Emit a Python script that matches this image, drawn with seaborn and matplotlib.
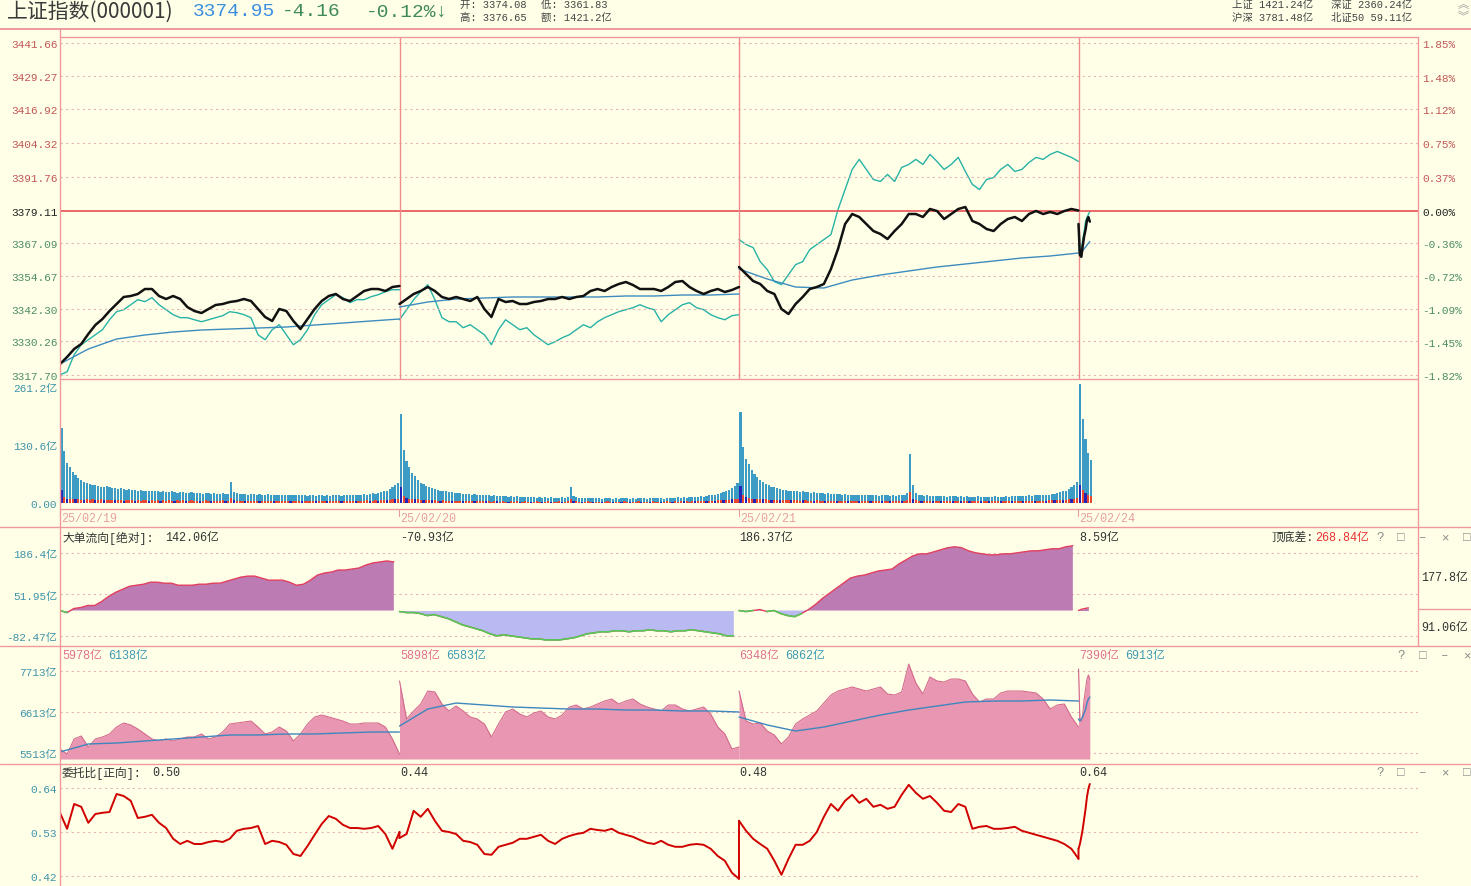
import numpy as np
import matplotlib
matplotlib.use("Agg")
import matplotlib.pyplot as plt
from matplotlib.lines import Line2D
import seaborn as sns

# ---------------- data ----------------
DAY_LABELS = ["25/02/19", "25/02/20", "25/02/21", "25/02/24"]
PREV_CLOSE = 3379.11
PRICE_TICKS = [3441.66, 3429.27, 3416.92, 3404.32, 3391.76, 3379.11,
               3367.09, 3354.67, 3342.30, 3330.26, 3317.70]
PCT_TICKS = [1.85, 1.48, 1.12, 0.75, 0.37, 0.00, -0.36, -0.72, -1.09, -1.45, -1.82]

# index price, 5-minute samples (last day 1-minute)
price_d1 = [3321.80, 3324.41, 3327.40, 3329.27, 3333.00, 3336.36, 3338.60, 3341.59, 3344.20, 3346.82,
            3347.19, 3347.94, 3349.80, 3349.80, 3347.19, 3346.07, 3347.19, 3346.07, 3343.08, 3341.59,
            3340.84, 3342.34, 3343.83, 3344.20, 3344.95, 3345.32, 3346.07, 3345.32, 3342.34, 3339.35,
            3337.86, 3342.34, 3341.59, 3337.86, 3334.87, 3338.60, 3342.34, 3345.32, 3347.19, 3347.94,
            3346.07, 3345.32, 3347.19, 3349.06, 3349.80, 3349.80, 3349.06, 3350.55, 3350.92]
price_d2 = [3344.20, 3346.07, 3347.94, 3349.06, 3350.55, 3349.06, 3346.82, 3346.07, 3346.82, 3346.07,
            3345.32, 3346.82, 3342.34, 3339.35, 3346.07, 3344.95, 3345.32, 3344.20, 3344.20, 3344.95,
            3345.32, 3346.07, 3346.07, 3346.82, 3346.07, 3346.82, 3347.19, 3349.06, 3349.80, 3349.06,
            3350.55, 3351.67, 3352.42, 3351.30, 3349.80, 3349.80, 3349.80, 3349.06, 3350.55, 3352.42,
            3352.79, 3350.55, 3349.06, 3347.94, 3349.06, 3349.80, 3348.68, 3349.43, 3350.55]
price_d3 = [3358.02, 3355.40, 3352.79, 3351.67, 3349.06, 3347.94, 3342.34, 3340.47, 3344.20, 3346.82,
            3349.80, 3350.55, 3351.67, 3357.27, 3364.74, 3374.07, 3377.81, 3376.69, 3374.07, 3371.46,
            3370.34, 3368.47, 3371.46, 3374.07, 3377.81, 3377.81, 3376.69, 3379.68, 3378.93, 3375.94,
            3377.81, 3379.68, 3380.42, 3375.20, 3374.07, 3372.21, 3371.46, 3374.07, 3375.94, 3376.69,
            3375.20, 3377.81, 3378.93, 3377.81, 3378.56, 3377.81, 3378.93, 3379.68, 3379.11]
price_d4 = [3374.08, 3362.50, 3361.83, 3366.00, 3369.50, 3372.00, 3375.50, 3376.65, 3374.95]

# second index, percent change
pct_d1 = [-1.815, -1.782, -1.594, -1.483, -1.428, -1.373, -1.317, -1.207, -1.118, -1.096,
          -1.041, -0.985, -1.007, -0.963, -1.041, -1.096, -1.151, -1.184, -1.184, -1.207,
          -1.229, -1.207, -1.184, -1.162, -1.118, -1.129, -1.151, -1.184, -1.373, -1.428,
          -1.317, -1.262, -1.373, -1.483, -1.428, -1.317, -1.151, -1.041, -0.985, -0.930,
          -0.963, -1.018, -0.985, -0.985, -0.952, -0.930, -0.897, -0.875, -0.875]
pct_d2 = [-1.207, -1.096, -0.985, -0.897, -0.819, -0.985, -1.184, -1.229, -1.229, -1.295,
          -1.262, -1.317, -1.373, -1.483, -1.317, -1.207, -1.262, -1.317, -1.295, -1.373,
          -1.428, -1.483, -1.450, -1.406, -1.373, -1.317, -1.262, -1.295, -1.229, -1.184,
          -1.151, -1.118, -1.096, -1.074, -1.041, -1.074, -1.096, -1.229, -1.151, -1.096,
          -1.041, -1.018, -1.074, -1.096, -1.151, -1.184, -1.207, -1.162, -1.151]
pct_d3 = [-0.321, -0.376, -0.410, -0.565, -0.653, -0.786, -0.819, -0.708, -0.598, -0.565,
          -0.432, -0.376, -0.321, -0.266, 0.011, 0.232, 0.454, 0.565, 0.454, 0.343,
          0.321, 0.399, 0.321, 0.476, 0.509, 0.565, 0.509, 0.620, 0.542, 0.454,
          0.509, 0.587, 0.432, 0.288, 0.232, 0.343, 0.365, 0.454, 0.509, 0.432,
          0.454, 0.531, 0.587, 0.565, 0.620, 0.653, 0.620, 0.587, 0.542]
pct_d4 = [-0.376, -0.520, -0.432, -0.321, -0.232, -0.122, -0.077, -0.044, -0.011]

# average price line, 20-minute samples (last day 1-minute)
avg_d1 = [3321.80, 3327.40, 3331.13, 3332.63, 3333.75, 3334.49, 3334.87, 3335.24, 3335.61,
          3336.36, 3337.11, 3337.86, 3338.60]
avg_d2 = [3343.08, 3344.95, 3346.07, 3346.44, 3346.82, 3346.82, 3346.82, 3346.82, 3347.19,
          3347.19, 3347.56, 3347.56, 3347.94]
avg_d3 = [3357.27, 3353.54, 3350.55, 3350.18, 3353.16, 3355.03, 3356.53, 3358.02, 3359.14,
          3360.26, 3361.38, 3362.13, 3363.25]
avg_d4 = [3364.5, 3364.0, 3363.8, 3364.2, 3364.8, 3365.5, 3366.2, 3366.9, 3367.5]

# traded amount per 2 minutes (亿)
vol_d1 = [169, 117, 90, 80, 70, 62, 56, 52, 48, 45, 43, 41, 40, 38, 37, 36, 38, 35, 34, 33,
          32, 34, 31, 30, 31, 29, 30, 28, 29, 27, 28, 27, 26, 28, 26, 25, 26, 24, 25, 26,
          24, 23, 25, 24, 23, 22, 24, 23, 22, 23, 21, 22, 23, 21, 22, 20, 21, 22, 20, 21,
          47, 25, 22, 21, 20, 21, 19, 20, 21, 19, 20, 19, 18, 20, 19, 18, 19, 18, 17, 19,
          18, 17, 18, 19, 17, 18, 17, 16, 18, 17, 16, 17, 18, 16, 17, 16, 17, 18, 17, 16,
          17, 18, 17, 18, 19, 18, 19, 20, 19, 21, 22, 21, 23, 24, 26, 28, 31, 35, 40, 46]
vol_d2 = [200, 120, 95, 80, 68, 60, 52, 46, 42, 38, 35, 33, 31, 30, 28, 27, 26, 25, 24, 23,
          22, 23, 21, 20, 21, 19, 20, 18, 19, 18, 17, 18, 16, 17, 16, 15, 16, 15, 14, 15,
          14, 15, 14, 13, 14, 13, 14, 13, 12, 13, 12, 13, 12, 13, 12, 11, 12, 13, 12, 14,
          36, 16, 13, 12, 11, 12, 11, 12, 11, 12, 11, 10, 11, 12, 11, 10, 11, 10, 11, 12,
          11, 10, 11, 10, 11, 12, 11, 10, 11, 12, 11, 12, 11, 10, 11, 12, 11, 12, 13, 12,
          13, 12, 13, 14, 13, 14, 15, 14, 16, 17, 18, 19, 20, 22, 24, 26, 29, 33, 38, 45]
vol_d3 = [205, 125, 100, 88, 75, 66, 58, 52, 47, 43, 40, 37, 35, 33, 32, 30, 29, 28, 27, 26,
          27, 25, 26, 24, 25, 23, 24, 22, 23, 22, 21, 22, 21, 20, 21, 20, 19, 20, 19, 18,
          19, 18, 19, 18, 17, 18, 17, 18, 17, 16, 17, 18, 17, 16, 17, 16, 17, 18, 19, 22,
          110, 40, 22, 18, 17, 16, 17, 16, 15, 16, 15, 16, 15, 14, 15, 16, 15, 14, 15, 14,
          15, 14, 13, 14, 15, 14, 13, 14, 13, 14, 15, 14, 13, 14, 15, 14, 15, 16, 15, 16,
          15, 16, 17, 16, 17, 18, 17, 18, 19, 18, 20, 21, 22, 24, 26, 28, 31, 35, 40, 48]
vol_d4 = [268, 190, 145, 112, 96]

# big-order part of the amount (+ buy / - sell)
big_d1 = [-30, 14, -10, 9, 8, -8, 9, 7, -7, 8, 7, 8, -6, 7, 8, -6, 7, 6, 7, -6,
          7, 6, -5, 6, 7, 6, -5, 6, 5, 6, 7, -5, 6, 5, 6, -5, 6, 5, 6, 5,
          -5, 6, 5, 6, -5, 5, 6, 5, 4, -5, 5, 6, 5, -4, 5, 4, 5, 6, -4, 5,
          12, -6, 5, 4, 5, -4, 5, 4, 5, 4, -4, 5, 4, 5, 4, -4, 5, 4, 5, 4,
          5, -4, 4, 5, 4, -4, 5, 4, 4, 5, -4, 4, 5, 4, -4, 4, 5, 4, 5, -4,
          4, 5, 4, 5, -4, 5, 4, 5, 6, -5, 5, 6, -5, 6, 7, -6, 7, 8, -9, 10]
big_d2 = [-35, 16, -12, 10, 9, -8, 8, 7, -7, 7, 6, -6, 6, 5, -5, 6, 5, 5, -5, 5,
          4, 5, -4, 5, 4, 4, -4, 4, 5, 4, -4, 4, 3, 4, -4, 3, 4, 3, -3, 4,
          3, 4, -3, 3, 4, 3, -3, 3, 4, 3, -3, 3, 4, -3, 3, 3, 4, -3, 3, 4,
          10, -5, 4, 3, -3, 3, 4, 3, -3, 3, 3, -3, 3, 4, 3, -3, 3, 3, -3, 4,
          3, -3, 3, 3, 4, -3, 3, 3, -3, 4, 3, 3, -3, 3, 4, 3, -3, 4, 3, 4,
          -4, 4, 3, 4, -4, 4, 5, 4, -5, 5, 5, -5, 6, 6, -6, 7, 7, -8, 9, 10]
big_d3 = [-38, 18, -14, 11, 10, -9, 9, 8, -8, 8, 7, -7, 7, 6, -6, 7, 6, 6, -6, 6,
          6, 5, -6, 6, 5, 5, -5, 6, 5, 5, -5, 5, 4, 5, -5, 4, 5, 4, -4, 5,
          4, 5, -4, 4, 5, 4, -4, 4, 5, 4, -4, 4, 5, -4, 4, 4, 5, -4, 5, 6,
          25, -10, 6, 5, -4, 4, 5, 4, -4, 4, 4, -4, 4, 5, 4, -4, 4, 4, -4, 5,
          4, -4, 4, 4, 5, -4, 4, 4, -4, 5, 4, 4, -4, 4, 5, 4, -4, 5, 4, 5,
          -4, 5, 4, 5, -5, 5, 5, 5, -5, 6, 6, -6, 6, 7, -7, 7, 8, -8, 9, 11]
big_d4 = [-40, 30, -22, 18, 15]

# 大单流向 cumulative (亿)
flow_d1 = [0, -6.6, 6.6, 9.8, 16.4, 16.4, 29.5, 45.9, 59.0, 68.9, 78.7, 82.0, 85.3, 91.8, 91.8,
           88.6, 88.6, 82.0, 82.0, 82.0, 85.3, 85.3, 88.6, 88.6, 95.1, 101.7, 108.2, 111.5, 111.5,
           105.0, 98.4, 98.4, 98.4, 91.8, 82.0, 85.3, 98.4, 114.8, 121.4, 124.6, 131.2, 131.2,
           134.5, 137.8, 147.6, 154.2, 157.4, 160.7, 157.4]
flow_d2 = [-3.3, -6.6, -6.6, -9.8, -16.4, -13.1, -19.7, -26.2, -36.1, -45.9, -52.5, -59.0, -65.6,
           -75.4, -82.0, -78.7, -82.0, -85.3, -88.6, -91.8, -91.8, -95.1, -95.1, -95.1, -91.8,
           -88.6, -82.0, -75.4, -72.2, -68.9, -68.9, -65.6, -65.6, -68.9, -65.6, -65.6, -62.3,
           -65.6, -65.6, -68.9, -65.6, -65.6, -62.3, -65.6, -68.9, -72.2, -75.4, -82.0, -82.0]
flow_d3 = [0, -3.3, 0, 3.3, -3.3, 0, -9.8, -16.4, -19.7, -9.8, 3.3, 19.7, 39.4, 55.8, 72.2,
           88.6, 105.0, 111.5, 114.8, 121.4, 128.0, 131.2, 134.5, 150.9, 164.0, 177.1, 183.7,
           183.7, 190.2, 196.8, 203.4, 206.6, 203.4, 193.5, 187.0, 183.7, 180.4, 180.4, 183.7,
           183.7, 187.0, 190.2, 193.5, 193.5, 196.8, 200.1, 200.1, 206.6, 209.9]
flow_d4 = [0, 2, 4, 5, 6, 7, 8, 8.6]
FLOW_HEAD = ["142.06亿", "-70.93亿", "186.37亿", "8.59亿"]

# cumulative amount (亿) and its average line
amt_d1 = [5620, 5486, 5889, 5969, 5674, 5889, 5942, 6023, 6210, 6318, 6264, 6157, 6023, 5889, 5835,
          5889, 5835, 5889, 5942, 5942, 6023, 5889, 5942, 6076, 6291, 6318, 6345, 6371, 6210, 6023,
          6076, 6210, 6103, 5835, 6023, 6291, 6479, 6532, 6479, 6425, 6371, 6291, 6291, 6318, 6318,
          6318, 6210, 5889, 5486]
amt_d2 = [7445, 6425, 6640, 6828, 7176, 7150, 6828, 6640, 6774, 6640, 6479, 6425, 6291, 5942, 6291,
          6613, 6693, 6559, 6479, 6586, 6640, 6479, 6425, 6532, 6747, 6801, 6693, 6747, 6828, 6908,
          6962, 6828, 6908, 6962, 6828, 6747, 6693, 6640, 6801, 6801, 6693, 6640, 6693, 6747, 6559,
          6210, 6023, 5620, 5674]
amt_d3 = [7176, 6371, 6291, 6318, 6103, 5996, 5755, 5942, 6291, 6425, 6532, 6640, 6854, 7069, 7176,
          7230, 7284, 7230, 7176, 7230, 7284, 7096, 7069, 7150, 7900, 7391, 7096, 7552, 7445, 7418,
          7498, 7498, 7445, 7096, 6881, 6962, 6962, 7123, 7176, 7176, 7176, 7150, 7123, 6962, 6693,
          6801, 6828, 6479, 6210]
amt_d4 = [7767, 6425, 6371, 6559, 6962, 7230, 7498, 7606, 7498]
amtavg_d1 = [5540, 5755, 5781, 5835, 5889, 5942, 5996, 5996, 6023, 6023, 6050, 6076, 6076]
amtavg_d2 = [6237, 6693, 6854, 6801, 6747, 6720, 6693, 6693, 6666, 6666, 6640, 6640, 6613]
amtavg_d3 = [6479, 6264, 6103, 6210, 6371, 6532, 6666, 6774, 6881, 6908, 6908, 6935, 6908]
amtavg_d4 = [6425, 6371, 6425, 6479, 6586, 6693, 6854, 6962, 7015]
AMT_HEAD = [("5978亿", "6138亿"), ("5898亿", "6583亿"), ("6348亿", "6862亿"), ("7390亿", "6913亿")]

# 委托比
ratio_d1 = [0.578, 0.538, 0.600, 0.593, 0.553, 0.575, 0.578, 0.580, 0.625, 0.620, 0.608, 0.565,
            0.568, 0.573, 0.553, 0.540, 0.513, 0.500, 0.508, 0.500, 0.500, 0.505, 0.508, 0.505,
            0.513, 0.533, 0.538, 0.540, 0.545, 0.500, 0.508, 0.505, 0.498, 0.475, 0.470, 0.495,
            0.523, 0.550, 0.570, 0.563, 0.548, 0.540, 0.540, 0.538, 0.540, 0.545, 0.525, 0.488, 0.530]
ratio_d2 = [0.515, 0.525, 0.583, 0.568, 0.588, 0.558, 0.533, 0.530, 0.525, 0.508, 0.505, 0.498,
            0.475, 0.473, 0.493, 0.498, 0.503, 0.513, 0.513, 0.518, 0.523, 0.508, 0.500, 0.513,
            0.520, 0.525, 0.528, 0.538, 0.535, 0.533, 0.538, 0.528, 0.523, 0.518, 0.510, 0.503,
            0.500, 0.508, 0.498, 0.493, 0.493, 0.498, 0.500, 0.498, 0.488, 0.470, 0.458, 0.428, 0.413]
ratio_d3 = [0.558, 0.533, 0.513, 0.500, 0.488, 0.458, 0.423, 0.463, 0.498, 0.498, 0.508, 0.530,
            0.568, 0.600, 0.583, 0.608, 0.623, 0.603, 0.613, 0.593, 0.598, 0.588, 0.593, 0.623,
            0.648, 0.628, 0.613, 0.620, 0.603, 0.583, 0.580, 0.600, 0.593, 0.538, 0.543, 0.545,
            0.538, 0.538, 0.540, 0.543, 0.533, 0.528, 0.523, 0.518, 0.513, 0.508, 0.500, 0.488, 0.463]
ratio_d4 = [0.488, 0.500, 0.518, 0.538, 0.563, 0.588, 0.618, 0.638, 0.650]
RATIO_HEAD = ["0.50", "0.44", "0.48", "0.64"]

# ---------------- style ----------------
W, H = 1471, 887
BG = '#FFFFE8'
PINK = '#EE9A9A'
GRIDC = '#E6B4B4'
UPC, DNC, TEALT = '#C25858', '#4E8E66', '#3F93AA'
DAY = 240
CJK = ['Noto Sans CJK SC', 'DejaVu Sans']

sns.set_theme(style='white')
plt.rcParams['font.family'] = ['Liberation Mono', 'Noto Sans CJK SC', 'DejaVu Sans']
plt.rcParams['axes.unicode_minus'] = False

fig = plt.figure(figsize=(W / 100, H / 100), dpi=100, facecolor=BG)


def add_ax(top, bottom, left=60, right=1418):
    ax = fig.add_axes([left / W, 1 - bottom / H, (right - left) / W, (bottom - top) / H])
    ax.set_facecolor(BG)
    for s in ax.spines.values():
        s.set_visible(False)
    ax.tick_params(axis='both', length=0, pad=2, labelsize=8)
    return ax


def finish(ax, xlim=(0, 4 * DAY)):
    ax.set_xlim(*xlim)
    ax.set_xticks([])
    ax.set_xlabel('')
    ax.set_ylabel('')
    ax.grid(False)


def hline_px(y, x0=60, x1=1418, **kw):
    kw.setdefault('color', PINK)
    kw.setdefault('lw', 1.0)
    fig.add_artist(Line2D([x0 / W, x1 / W], [1 - y / H, 1 - y / H], transform=fig.transFigure, zorder=20, **kw))


def vline_px(x, y0, y1, **kw):
    kw.setdefault('color', PINK)
    kw.setdefault('lw', 1.0)
    fig.add_artist(Line2D([x / W, x / W], [1 - y0 / H, 1 - y1 / H], transform=fig.transFigure, zorder=20, **kw))


def ftext(x, y, s, **kw):
    kw.setdefault('fontsize', 8.5)
    kw.setdefault('color', '#333333')
    fig.text(x / W, 1 - y / H, s, va='center', ha=kw.pop('ha', 'left'), **kw)


def sline(ax, x, y, **kw):
    sns.lineplot(x=np.asarray(x, float), y=np.asarray(y, float), ax=ax, estimator=None,
                 sort=False, legend=False, **kw)


def xs(day, n, step):
    return day * DAY + np.arange(n) * step


DASH = (0, (2, 3))

# ---------------- main price panel ----------------
ax = add_ax(38, 380)
ylo, yhi = 3316.2, 3443.9
for p in PRICE_TICKS:
    if p == PREV_CLOSE:
        ax.axhline(p, color='#E85050', lw=1.2, zorder=1)
    else:
        ax.axhline(p, color=GRIDC, lw=0.8, ls=DASH, zorder=1)
for d in (1, 2, 3):
    ax.axvline(d * DAY, color='#EE8C8C', lw=1.0, zorder=1)
ax2 = ax.twinx()
for s in ax2.spines.values():
    s.set_visible(False)
for d, (pr, pc, av) in enumerate([(price_d1, pct_d1, avg_d1), (price_d2, pct_d2, avg_d2),
                                  (price_d3, pct_d3, avg_d3), (price_d4, pct_d4, avg_d4)]):
    st = 5 if d < 3 else 1
    ast = 20 if d < 3 else 1
    sline(ax2, xs(d, len(pc), st), pc, color='#27B2A6', lw=1.0)
    sline(ax, xs(d, len(av), ast), av, color='#3D8CBF', lw=1.0)
    sline(ax, xs(d, len(pr), st), pr, color='#111111', lw=1.8)
ax.set_zorder(ax2.get_zorder() + 1)
ax.patch.set_visible(False)
ax2.set_facecolor(BG)
finish(ax)
finish(ax2)
ax.set_ylim(ylo, yhi)
ax2.set_ylim((ylo / PREV_CLOSE - 1) * 100, (yhi / PREV_CLOSE - 1) * 100)
ax.set_yticks(PRICE_TICKS)
ax.set_yticklabels([f"{p:.2f}" for p in PRICE_TICKS])
for lbl, p in zip(ax.get_yticklabels(), PRICE_TICKS):
    lbl.set_color('#222222' if p == PREV_CLOSE else (UPC if p > PREV_CLOSE else DNC))
ax2.set_yticks(PCT_TICKS)
ax2.set_yticklabels([f"{v:.2f}%" for v in PCT_TICKS])
ax2.tick_params(axis='y', length=0, pad=3, labelsize=8)
for lbl, v in zip(ax2.get_yticklabels(), PCT_TICKS):
    lbl.set_color('#222222' if v == 0 else (UPC if v > 0 else DNC))

# ---------------- volume panel ----------------
axv = add_ax(380, 510)
for d, (v, b) in enumerate([(vol_d1, big_d1), (vol_d2, big_d2), (vol_d3, big_d3), (vol_d4, big_d4)]):
    xv = xs(d, len(v), 2) + 1
    axv.bar(xv, v, width=1.55, color='#3C9CC6', linewidth=0)
    b = np.asarray(b, float)
    xb = xs(d, len(b), 2) + 1
    axv.bar(xb, np.abs(b), width=1.55, color=np.where(b > 0, '#E8462E', '#2424B8'), linewidth=0)
finish(axv)
axv.set_ylim(-13.5, 279)
axv.set_yticks([261.2, 130.6, 0])
axv.set_yticklabels(["261.2亿", "130.6亿", "0.00"], color=TEALT)

# date row
for d, lab in enumerate(DAY_LABELS):
    ftext(61 + d * 339.4, 519, lab, color='#E8A0A0', fontsize=8.5)
    vline_px(60 + d * 339.4, 510, 517, lw=0.8)

# ---------------- big order flow panel ----------------
axf = add_ax(528, 647)
for g in (186.4, 51.95, -82.47):
    axf.axhline(g, color=GRIDC, lw=0.8, ls=DASH, zorder=0)
for d, f in enumerate([flow_d1, flow_d2, flow_d3, flow_d4]):
    f = np.asarray(f, float)
    x = d * DAY + (np.linspace(0, 236, len(f)) if d < 3 else np.arange(len(f)))
    axf.fill_between(x, f, 0, where=f >= 0, interpolate=True, color='#BC7BB3', lw=0)
    axf.fill_between(x, f, 0, where=f <= 0, interpolate=True, color='#BABAF2', lw=0)
    sline(axf, x, f, color='#E2405E', lw=1.0)
    neg = np.where(f <= 0, f, np.nan)
    axf.plot(x, neg, color='#55C855', lw=1.2)
finish(axf)
axf.set_ylim(-114.9, 270.6)
axf.set_yticks([186.4, 51.95, -82.47])
axf.set_yticklabels(["186.4亿", "51.95亿", "-82.47亿"], color=TEALT)
ftext(62, 538, "大单流向[绝对]:", fontsize=8.5)
ftext(165, 538, FLOW_HEAD[0])
for d in (1, 2, 3):
    ftext(400 + (d - 1) * 339.4, 538, FLOW_HEAD[d])
ftext(1272, 538, "顶底差:")
ftext(1315, 538, "268.84亿", color='#E83030')
ftext(1421, 578, "177.8亿")
ftext(1421, 628, "91.06亿")

# ---------------- amount panel ----------------
axa = add_ax(647, 765)
for g in (7713, 6613, 5513):
    axa.axhline(g, color=GRIDC, lw=0.8, ls=DASH, zorder=0)
FILL_BASE = 5352
for d, (a, m) in enumerate([(amt_d1, amtavg_d1), (amt_d2, amtavg_d2), (amt_d3, amtavg_d3), (amt_d4, amtavg_d4)]):
    st = 5 if d < 3 else 1
    ast = 20 if d < 3 else 1
    x = xs(d, len(a), st)
    axa.fill_between(x, a, FILL_BASE, color='#E896B1', lw=0, zorder=1)
    sline(axa, x, a, color='#D46A8E', lw=0.8, zorder=2)
    sline(axa, xs(d, len(m), ast), m, color='#3E86BE', lw=1.0, zorder=3)
finish(axa)
axa.set_ylim(5218, 8384)
axa.set_yticks([7713, 6613, 5513])
axa.set_yticklabels(["7713亿", "6613亿", "5513亿"], color=TEALT)
for d, (h1, h2) in enumerate(AMT_HEAD):
    x0 = 62 if d == 0 else 400 + (d - 1) * 339.4
    ftext(x0, 656, h1, color='#E0708F')
    ftext(x0 + 46, 656, h2, color='#3F9AB4')

# ---------------- ratio panel ----------------
axr = add_ax(765, 887)
for g in (0.64, 0.53, 0.42):
    axr.axhline(g, color=GRIDC, lw=0.8, ls=DASH, zorder=0)
for d, r in enumerate([ratio_d1, ratio_d2, ratio_d3, ratio_d4]):
    st = 5 if d < 3 else 1
    sline(axr, xs(d, len(r), st), r, color='#D00000', lw=1.4)
# connect days
for d, (a, b) in enumerate([(ratio_d1, ratio_d2), (ratio_d2, ratio_d3), (ratio_d3, ratio_d4)]):
    sline(axr, [(d + 1) * DAY - 0.01, (d + 1) * DAY], [a[-1], b[0]], color='#D00000', lw=1.4)
finish(axr)
axr.set_ylim(0.395, 0.70)
axr.set_yticks([0.64, 0.53, 0.42])
axr.set_yticklabels(["0.64", "0.53", "0.42"], color=TEALT)
ftext(62, 773, "委托比[正向]:")
ftext(152, 773, RATIO_HEAD[0])
for d in (1, 2, 3):
    ftext(400 + (d - 1) * 339.4, 773, RATIO_HEAD[d])

# panel icons
for y, xs_ in ((538, (1380, 1401, 1423, 1445, 1467)), (656, (1401, 1423, 1445, 1467)),
               (773, (1380, 1401, 1423, 1445, 1467))):
    for x, s in zip(xs_, "?□–×□"):
        ftext(x, y, s, color='#8A8A8A', fontsize=9, ha='center')

# ---------------- header ----------------
ftext(7, 12, "上证指数(000001)", fontsize=15, color='#3A3A3A', family=CJK)
ftext(193, 12, "3374.95", fontsize=14, color='#3A8EE0')
ftext(282, 12, "-4.16", fontsize=14, color='#3F8A55')
ftext(366, 12, "-0.12%↓", fontsize=14, color='#3F8A55')
ftext(460, 5, "开: 3374.08", fontsize=7.5, color='#444444')
ftext(541, 5, "低: 3361.83", fontsize=7.5, color='#444444')
ftext(460, 18, "高: 3376.65", fontsize=7.5, color='#444444')
ftext(541, 18, "额: 1421.2亿", fontsize=7.5, color='#444444')
ftext(1232, 5, "上证 1421.24亿", fontsize=7.5, color='#444444')
ftext(1331, 5, "深证 2360.24亿", fontsize=7.5, color='#444444')
ftext(1232, 18, "沪深 3781.48亿", fontsize=7.5, color='#444444')
ftext(1331, 18, "北证50 59.11亿", fontsize=7.5, color='#444444')
ftext(1463, 5, "︽", fontsize=8, color='#9A9A9A', ha='center')
ftext(1463, 17, "︾", fontsize=8, color='#9A9A9A', ha='center')

# ---------------- frame lines ----------------
hline_px(30, 0, W, lw=1.4)
hline_px(38)
hline_px(380)
hline_px(510)
hline_px(528, 0, W)
hline_px(647, 0, W)
hline_px(765, 0, W)
hline_px(610, 1418, W)
vline_px(60, 30, H)
vline_px(1418, 38, 647)

fig.savefig("out.png", dpi=100, facecolor=BG)
